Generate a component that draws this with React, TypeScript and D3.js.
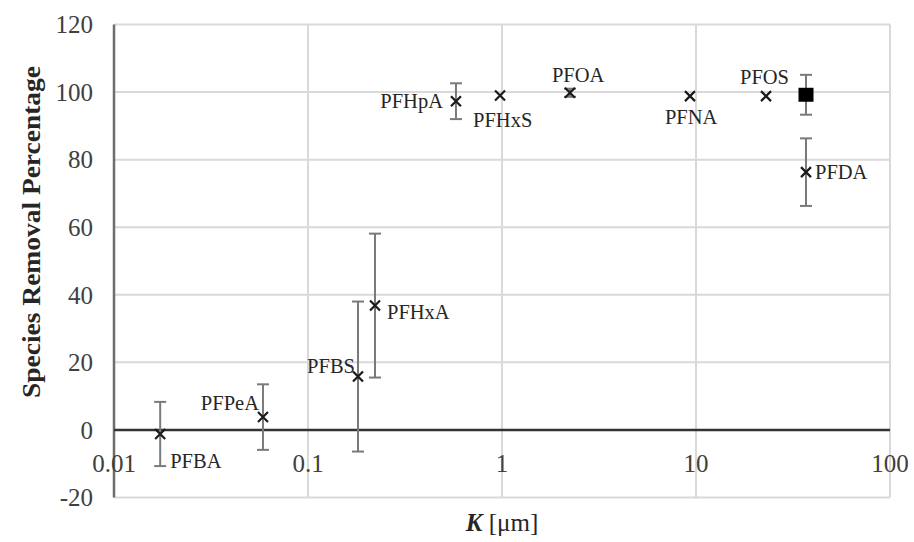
import React, { useEffect, useRef } from "react";
import * as d3 from "d3";

// species, K (um), removal %, error
const species = ["PFBA", "PFPeA", "PFBS", "PFHxA", "PFHpA", "PFHxS", "PFOA", "PFNA", "PFOS", "PFDA"];
const kValues = [0.0173, 0.0586, 0.181, 0.2215, 0.579, 0.977, 2.24, 9.31, 22.96, 36.9];
const removal = [-1.2, 3.8, 15.8, 36.8, 97.3, 99, 99.8, 98.8, 98.8, 76.3];
const errors = [9.5, 9.7, 22.2, 21.3, 5.3, 0, 1.2, 0, 0, 10];

// the filled square point (no label)
const squareK = [36.9];
const squareVal = [99.2];
const squareErr = [5.9];

const xTicks = [0.01, 0.1, 1, 10, 100];
const xTickLabels = ["0.01", "0.1", "1", "10", "100"];
const yTicks = [-20, 0, 20, 40, 60, 80, 100, 120];

const width = 914;
const height = 542;
const margin = { top: 24.5, right: 24, bottom: 44.5, left: 114 };

// label placement relative to its point: [dx, dy, anchor]
const labelPos: [number, number, string][] = [
  [10, 27, "start"],
  [-4, -14, "end"],
  [-3, -11, "end"],
  [12, 6, "start"],
  [-13, 0, "end"],
  [-27, 24, "start"],
  [-18, -18, "start"],
  [-25, 21, "start"],
  [-26, -19, "start"],
  [9, 0, "start"],
];

const App = () => {
  const ref = useRef<SVGSVGElement>(null);

  useEffect(() => {
    const svg = d3.select(ref.current);
    svg.selectAll("*").remove();

    const x = d3.scaleLog().domain([0.01, 100]).range([margin.left, width - margin.right]);
    const y = d3.scaleLinear().domain([-20, 120]).range([height - margin.bottom, margin.top]);
    const font = "'Liberation Serif', 'Times New Roman', serif";

    // grid
    svg.append("g")
      .selectAll("line")
      .data(yTicks)
      .join("line")
      .attr("x1", x(0.01))
      .attr("x2", x(100))
      .attr("y1", (d) => y(d))
      .attr("y2", (d) => y(d))
      .attr("stroke", "#d9d9d9")
      .attr("stroke-width", 2);
    svg.append("g")
      .selectAll("line")
      .data(xTicks.slice(1))
      .join("line")
      .attr("x1", (d) => x(d))
      .attr("x2", (d) => x(d))
      .attr("y1", y(120))
      .attr("y2", y(-20))
      .attr("stroke", "#d9d9d9")
      .attr("stroke-width", 2);

    // axis lines
    svg.append("line")
      .attr("x1", x(0.01)).attr("x2", x(0.01))
      .attr("y1", y(120)).attr("y2", y(-20))
      .attr("stroke", "#6e6e6e").attr("stroke-width", 2.5);
    svg.append("line")
      .attr("x1", x(0.01)).attr("x2", x(100))
      .attr("y1", y(0)).attr("y2", y(0))
      .attr("stroke", "#333").attr("stroke-width", 2.5);

    // tick labels
    svg.append("g")
      .attr("font-family", font)
      .attr("font-size", 25)
      .attr("fill", "#404040")
      .attr("text-anchor", "end")
      .selectAll("text")
      .data(yTicks)
      .join("text")
      .attr("x", margin.left - 21)
      .attr("y", (d) => y(d))
      .attr("dy", "0.35em")
      .text((d) => d);
    svg.append("g")
      .attr("font-family", font)
      .attr("font-size", 25)
      .attr("fill", "#404040")
      .attr("text-anchor", "middle")
      .selectAll("text")
      .data(xTicks)
      .join("text")
      .attr("x", (d) => x(d))
      .attr("y", y(0) + 33)
      .attr("dy", "0.35em")
      .text((d, i) => xTickLabels[i]);

    // axis titles
    svg.append("text")
      .attr("transform", `translate(40,232) rotate(-90)`)
      .attr("text-anchor", "middle")
      .attr("font-family", font)
      .attr("font-size", 26)
      .attr("font-weight", "bold")
      .attr("fill", "#262626")
      .attr("textLength", 332)
      .attr("lengthAdjust", "spacingAndGlyphs")
      .text("Species Removal Percentage");
    const xt = svg.append("text")
      .attr("x", (x(0.01) + x(100)) / 2)
      .attr("y", 531)
      .attr("text-anchor", "middle")
      .attr("font-family", font)
      .attr("font-size", 25)
      .attr("fill", "#262626");
    xt.append("tspan").attr("font-weight", "bold").attr("font-style", "italic").text("K");
    xt.append("tspan").text(" [μm]");

    // error bars
    const drawErr = (ks: number[], vs: number[], es: number[]) => {
      const g = svg.append("g").attr("stroke", "#7a7a7a").attr("stroke-width", 2);
      ks.forEach((k, i) => {
        if (!es[i]) return;
        const cx = x(k);
        g.append("line").attr("x1", cx).attr("x2", cx).attr("y1", y(vs[i] - es[i])).attr("y2", y(vs[i] + es[i]));
        [vs[i] - es[i], vs[i] + es[i]].forEach((v) => {
          g.append("line").attr("x1", cx - 6).attr("x2", cx + 6).attr("y1", y(v)).attr("y2", y(v));
        });
      });
    };
    drawErr(kValues, removal, errors);
    drawErr(squareK, squareVal, squareErr);

    // x markers
    const s = 5;
    svg.append("g")
      .attr("stroke", "#1a1a1a")
      .attr("stroke-width", 2.2)
      .selectAll("path")
      .data(kValues)
      .join("path")
      .attr("d", (d, i) => {
        const cx = x(d), cy = y(removal[i]);
        return `M${cx - s},${cy - s}L${cx + s},${cy + s}M${cx - s},${cy + s}L${cx + s},${cy - s}`;
      });

    // square marker
    svg.append("g")
      .selectAll("rect")
      .data(squareK)
      .join("rect")
      .attr("x", (d) => x(d) - 7.5)
      .attr("y", (d, i) => y(squareVal[i]) - 7)
      .attr("width", 15)
      .attr("height", 14)
      .attr("fill", "#000");

    // labels
    svg.append("g")
      .attr("font-family", font)
      .attr("font-size", 20.5)
      .attr("fill", "#262626")
      .selectAll("text")
      .data(species)
      .join("text")
      .attr("x", (d, i) => x(kValues[i]) + labelPos[i][0])
      .attr("y", (d, i) => y(removal[i]) + labelPos[i][1])
      .attr("dy", "0.35em")
      .attr("text-anchor", (d, i) => labelPos[i][2])
      .text((d) => d);
  }, []);

  return (
    <svg
      ref={ref}
      width={width}
      height={height}
      style={{ position: "absolute", left: 0, top: 0, background: "#fff" }}
    />
  );
};

export default App;
